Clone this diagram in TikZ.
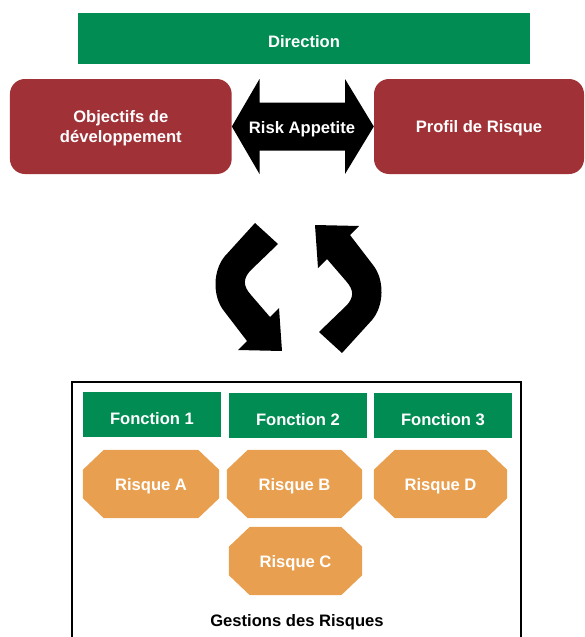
\documentclass[tikz,border=0pt]{standalone}
\usepackage{fontspec}
\setmainfont{Liberation Sans}
\usetikzlibrary{backgrounds}
\definecolor{dgreen}{HTML}{008C52}
\definecolor{dred}{HTML}{A03137}
\definecolor{dorange}{HTML}{E89F4F}
\newcommand\octfill[1]{%
  \fill[dorange] ([xshift=21pt]#1.north west) -- ([xshift=-21pt]#1.north east)
    -- ([yshift=-20pt]#1.north east) -- ([yshift=20pt]#1.south east)
    -- ([xshift=-21pt]#1.south east) -- ([xshift=21pt]#1.south west)
    -- ([yshift=20pt]#1.south west) -- ([yshift=-20pt]#1.north west) -- cycle;}
\begin{document}
\begin{tikzpicture}[x=1pt,y=-1pt,
  every node/.style={font=\fontsize{16.6}{20}\selectfont\bfseries, text=white, inner sep=0pt, align=center},
  greenbox/.style={fill=dgreen, minimum width=#1, minimum height=45pt, text height=19pt, text depth=0pt},
  redbox/.style={fill=dred, rounded corners=15pt, minimum width=#1, minimum height=95pt},
  riskbox/.style={minimum width=#1, minimum height=68pt, text height=12pt, text depth=0pt},
  bigarrow/.style={fill=black}]
\useasboundingbox (0,0) rectangle (585,637);

% top
\node[greenbox=452pt, minimum height=51pt, text height=18pt] (dir) at (304,38.5) {Direction};
\node[redbox=221.7pt, text depth=-2.5pt] (obj) at (120.8,126.5) {Objectifs de\\développement};
\node[redbox=210pt, text height=12pt, text depth=0pt] (prof) at (479,126.5) {Profil de Risque};

% double arrow between the red boxes
\fill[bigarrow] (obj.east) -- (259.5,79) -- (259.5,102.5) -- (345,102.5) -- (345,79)
  -- (prof.west) -- (345,174) -- (345,150.5) -- (259.5,150.5) -- (259.5,174) -- cycle;
\node[text height=12pt, text depth=0pt] (ra) at (302,127) {Risk Appetite};

% cycle arrows
\fill[bigarrow] (255,223) -- (225,256) .. controls (213,270) and (212,296) .. (224,311)
  -- (247,341) -- (238,350) -- (282,351) -- (279,308) -- (270,317) -- (251,295)
  .. controls (243,286) and (243,279) .. (250,271) -- (278,244) -- cycle;
\begin{scope}[rotate around={180:(298.5,288)}]
\fill[bigarrow] (255,223) -- (225,256) .. controls (213,270) and (212,296) .. (224,311)
  -- (247,341) -- (238,350) -- (282,351) -- (279,308) -- (270,317) -- (251,295)
  .. controls (243,286) and (243,279) .. (250,271) -- (278,244) -- cycle;
\end{scope}

% bottom frame
\draw[line width=2.7pt] (72,382) rectangle (521,660);
\node[greenbox=138pt] (f1) at (152,414.5) {Fonction 1};
\node[greenbox=138pt] (f2) at (298,415.5) {Fonction 2};
\node[greenbox=138pt] (f3) at (443,415.5) {Fonction 3};

\node[riskbox=136pt] (rA) at (151,484) {Risque A};
\node[riskbox=135pt] (rB) at (294.5,484) {Risque B};
\node[riskbox=133pt] (rD) at (440.5,484) {Risque D};
\node[riskbox=133pt] (rC) at (295.5,561) {Risque C};
\begin{pgfonlayer}{background}
\octfill{rA}\octfill{rB}\octfill{rD}\octfill{rC}
\end{pgfonlayer}

\node[text=black] (gest) at (297,622) {Gestions des Risques};
\end{tikzpicture}
\end{document}
